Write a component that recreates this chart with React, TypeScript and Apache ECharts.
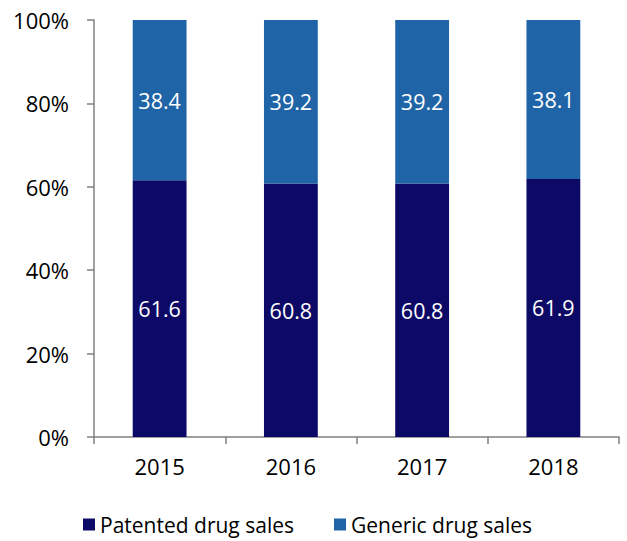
import React, { useEffect, useRef } from "react";
import * as echarts from "echarts";

const categories = ["2015", "2016", "2017", "2018"];
const patented = [61.6, 60.8, 60.8, 61.9];
const generic = [38.4, 39.2, 39.2, 38.1];
const seriesNames = ["Patented drug sales", "Generic drug sales"];
const colors = ["#0C0A66", "#1F64A6"];

const FONT = "'Open Sans', 'Noto Sans', sans-serif";

export default function App() {
  const ref = useRef<HTMLDivElement>(null);
  useEffect(() => {
    if (!ref.current) return;
    const chart = echarts.init(ref.current, undefined, { renderer: "svg" });
    const label = {
      show: true,
      position: "inside",
      color: "#ffffff",
      fontSize: 21.5,
      fontFamily: FONT,
      formatter: (p: any) => p.value.toFixed(1),
    };
    chart.setOption({
      animation: false,
      grid: { left: 94, right: 8, top: 20, bottom: 104 },
      legend: {
        top: 514,
        left: 83,
        padding: 0,
        itemWidth: 12,
        itemHeight: 12,
        itemGap: 40,
        icon: "rect",
        textStyle: { fontSize: 21, fontFamily: FONT, color: "#000" },
        data: seriesNames,
      },
      xAxis: {
        type: "category",
        data: categories,
        axisLine: { lineStyle: { color: "#808080", width: 1.5 } },
        axisTick: { show: true, length: 7, lineStyle: { color: "#808080", width: 1.5 } },
        axisLabel: { fontSize: 22, fontFamily: FONT, color: "#000", margin: 18 },
      },
      yAxis: {
        type: "value",
        min: 0,
        max: 100,
        interval: 20,
        splitLine: { show: false },
        axisLine: { show: true, lineStyle: { color: "#808080", width: 1.5 } },
        axisTick: { show: true, length: 7, lineStyle: { color: "#808080", width: 1.5 } },
        axisLabel: { fontSize: 22, fontFamily: FONT, color: "#000", margin: 25, formatter: "{value}%" },
      },
      series: [
        {
          name: seriesNames[0],
          type: "bar",
          stack: "total",
          barWidth: "41%",
          data: patented,
          itemStyle: { color: colors[0] },
          label,
        },
        {
          name: seriesNames[1],
          type: "bar",
          stack: "total",
          barWidth: "41%",
          data: generic,
          itemStyle: { color: colors[1] },
          label,
        },
      ],
    });
    return () => chart.dispose();
  }, []);
  return (
    <div
      ref={ref}
      style={{ position: "absolute", left: 0, top: 0, width: 627, height: 541, overflow: "hidden" }}
    />
  );
}
